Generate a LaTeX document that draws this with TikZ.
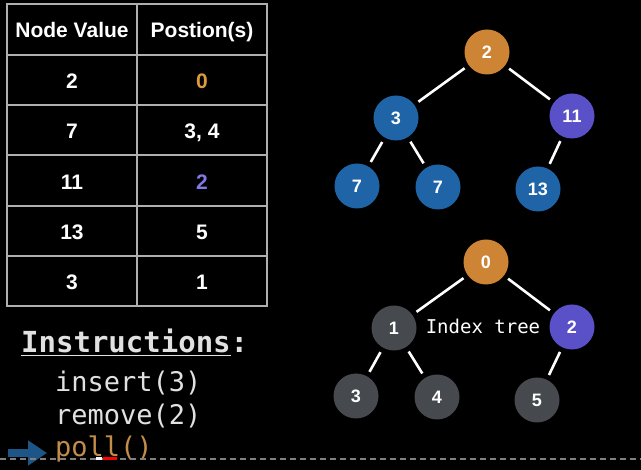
\documentclass[tikz,border=0pt]{standalone}
\usepackage{fontspec}
\setmainfont{Liberation Sans}
\setmonofont{DejaVu Sans Mono}
\usetikzlibrary{positioning, arrows.meta}
\definecolor{HeapOrange}{RGB}{205, 132, 52}
\definecolor{HeapBlue}{RGB}{31, 100, 166}
\definecolor{HeapPurple}{RGB}{90, 80, 200}
\definecolor{HeapGray}{RGB}{70, 73, 78}
\definecolor{TextOrange}{RGB}{222, 155, 62}
\definecolor{TextPurple}{RGB}{130, 120, 230}
\definecolor{ArrowBlue}{RGB}{30, 85, 135}
\definecolor{LineGray}{RGB}{175, 175, 175}
\definecolor{CodeGray}{RGB}{225, 225, 225}
\definecolor{CodeOrange}{RGB}{195, 140, 75}

\tikzset{
  heapnode/.style={circle, minimum size=45pt, inner sep=0pt, text=white,
    font=\bfseries\fontsize{18pt}{20pt}\selectfont},
  edge/.style={white, line width=2.6pt, shorten <=5pt, shorten >=5pt},
  cellhead/.style={anchor=base, text=white, font=\bfseries\fontsize{21pt}{24pt}\selectfont},
  cell/.style={anchor=base, text=white, font=\bfseries\fontsize{21pt}{24pt}\selectfont},
  codeline/.style={anchor=base west, inner sep=0pt, text=CodeGray, font=\ttfamily\fontsize{27pt}{30pt}\selectfont}
}

\begin{document}
\begin{tikzpicture}[x=1pt, y=-1pt]
    \fill[black] (0,0) rectangle (641,470);
    \useasboundingbox (0,0) rectangle (641,470);

    % Table
    \draw[LineGray, line width=1.5pt] (7,4) rectangle (267,306);
    \draw[LineGray, line width=1.5pt] (137,4) -- (137,306);
    \foreach \y in {55,105,155,206,256}
      \draw[LineGray, line width=1.5pt] (7,\y) -- (267,\y);
    \node[cellhead] (headval) at (72,38) {Node Value};
    \node[cellhead] (headpos) at (202,38) {Postion(s)};
    \foreach \v/\p/\c [count=\i] in {2/0/TextOrange, 7/{3, 4}/white, 11/2/TextPurple, 13/5/white, 3/1/white} {
      \node[cell] (val\i) at (72,38+50.4*\i) {\v};
      \node[cell, text=\c] (pos\i) at (202,38+50.4*\i) {\p};
    }

    % Value tree
    \node[heapnode, fill=HeapOrange] (v2) at (487,52) {2};
    \node[heapnode, fill=HeapBlue] (v3) at (396,118) {3};
    \node[heapnode, fill=HeapPurple] (v11) at (572,116) {11};
    \node[heapnode, fill=HeapBlue] (v7a) at (357,186) {7};
    \node[heapnode, fill=HeapBlue] (v7b) at (438,187) {7};
    \node[heapnode, fill=HeapBlue] (v13) at (538,189) {13};
    \draw[edge] (v2) -- (v3);
    \draw[edge] (v2) -- (v11);
    \draw[edge] (v3) -- (v7a);
    \draw[edge] (v3) -- (v7b);
    \draw[edge] (v11) -- (v13);

    % Index tree
    \node[heapnode, fill=HeapOrange] (i0) at (486,262) {0};
    \node[heapnode, fill=HeapGray] (i1) at (394,328) {1};
    \node[heapnode, fill=HeapPurple] (i2) at (572,327) {2};
    \node[heapnode, fill=HeapGray] (i3) at (356,396) {3};
    \node[heapnode, fill=HeapGray] (i4) at (437,397) {4};
    \node[heapnode, fill=HeapGray] (i5) at (537,400) {5};
    \draw[edge] (i0) -- (i1);
    \draw[edge] (i0) -- (i2);
    \draw[edge] (i1) -- (i3);
    \draw[edge] (i1) -- (i4);
    \draw[edge] (i2) -- (i5);
    \node[text=white, font=\ttfamily\fontsize{19pt}{22pt}\selectfont] (idxlabel) at (483,326) {Index tree};

    % Instructions
    \node[anchor=base west, inner sep=0pt, text=CodeGray, font=\ttfamily\bfseries\fontsize{29pt}{32pt}\selectfont] (instr) at (21,353) {\underline{Instructions}:};
    \node[codeline] (ins) at (55,392) {insert(3)};
    \node[codeline] (rem) at (55,425) {remove(2)};
    \node[codeline, text=CodeOrange] (pol) at (55,457) {poll()};
    \coordinate (arrstart) at (8,453);
    \coordinate (arrend) at (47,453);
    \draw[ArrowBlue, line width=8pt, -{Triangle[length=19pt, width=24pt]}] (arrstart) -- (arrend);

    % Progress bar
    \draw[gray, line width=2pt, dash pattern=on 6pt off 4pt] (0,459) -- (641,459);
    \draw[white, line width=3pt] (96,459) -- (102,459);
    \draw[red, line width=3pt] (103,459) -- (117,459);
\end{tikzpicture}
\end{document}
